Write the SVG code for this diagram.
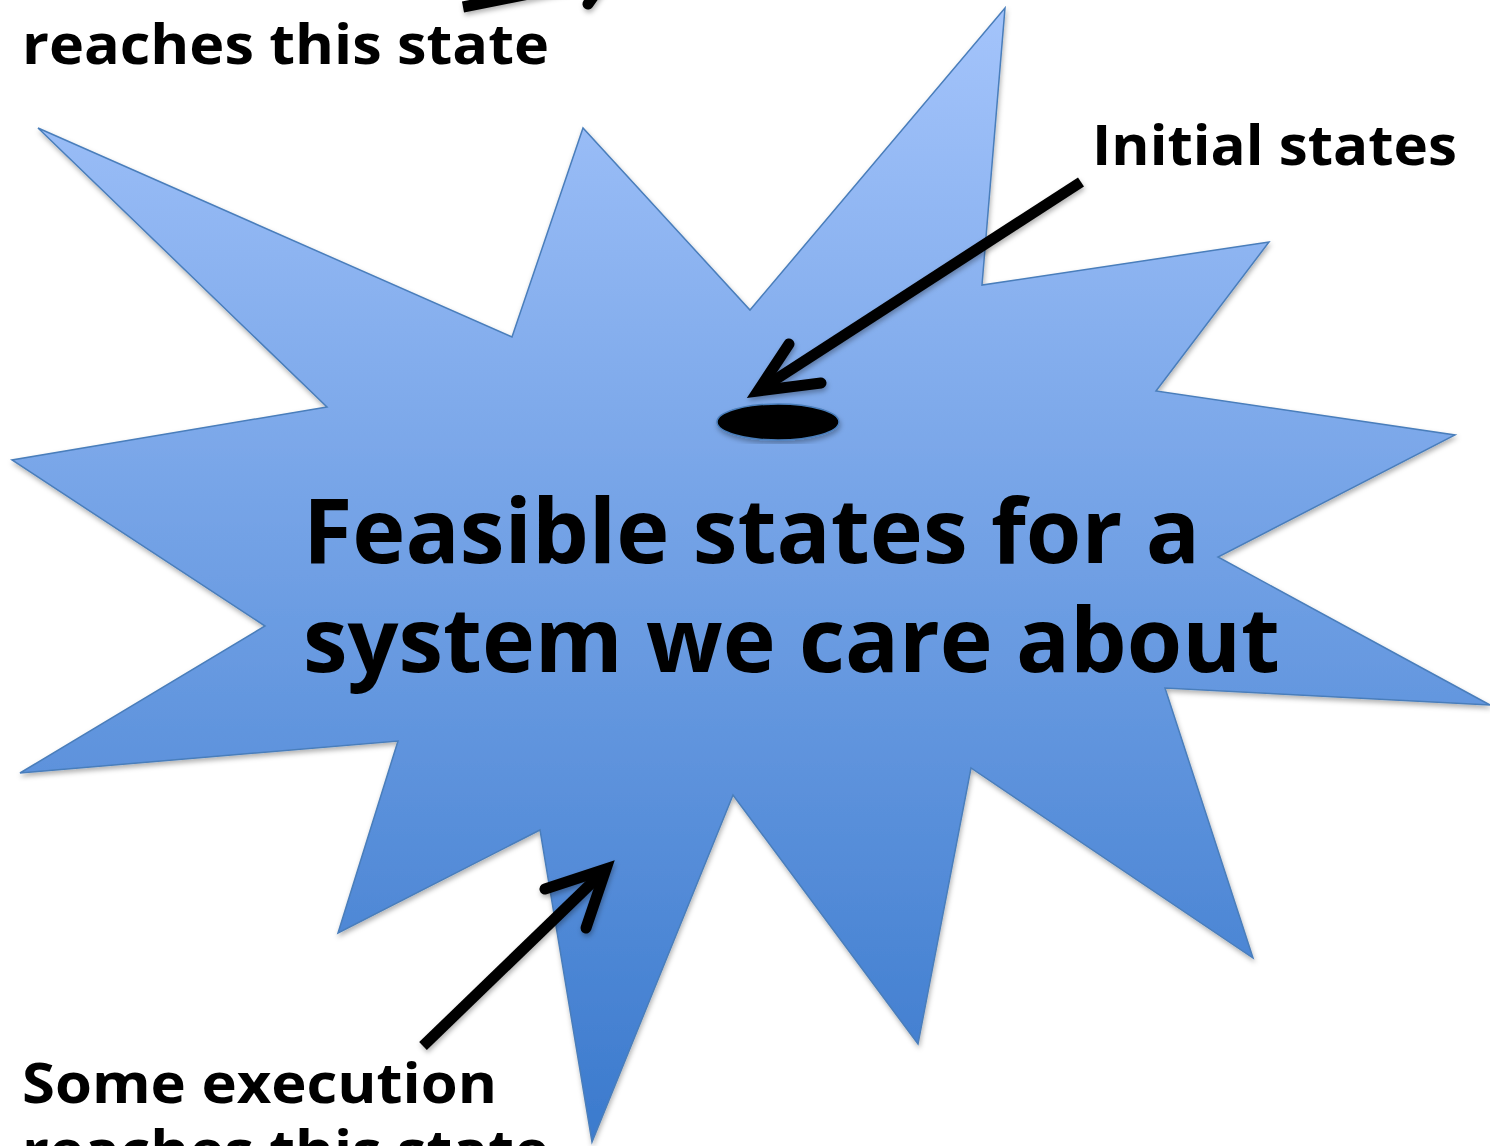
<svg xmlns="http://www.w3.org/2000/svg" width="1490" height="1146" viewBox="0 0 1490 1146">
  <defs>
    <linearGradient id="burstFill" gradientUnits="userSpaceOnUse" x1="0" y1="8" x2="0" y2="1142">
      <stop offset="0" stop-color="#a4c4fb"/>
      <stop offset="0.5" stop-color="#6f9fe4"/>
      <stop offset="1" stop-color="#3b7acd"/>
    </linearGradient>
    <filter id="softShadow" x="-10%" y="-10%" width="120%" height="120%">
      <feDropShadow dx="1" dy="3" stdDeviation="2.5" flood-color="#000" flood-opacity="0.3"/>
    </filter>
  </defs>
  <style>
    .label { font-family: "Open Sans", "DejaVu Sans", sans-serif; font-weight: 700; fill: #000; }
    .small { font-size: 56px; }
    .big { font-size: 90px; }
    .shaft { fill: none; stroke: #000; stroke-width: 11; stroke-linecap: butt; }
    .head { fill: none; stroke: #000; stroke-width: 11; stroke-linecap: round; stroke-linejoin: miter; stroke-miterlimit: 10; }
  </style>

  <rect width="1490" height="1146" fill="#fff"/>

  <!-- state space: explosion shape -->
  <g id="feasible-states">
    <polygon filter="url(#softShadow)" fill="url(#burstFill)" stroke="#4a7ebb" stroke-width="1.5" stroke-linejoin="miter"
      points="38,128 512,337 583,128 750,310 1005,8 982,285 1269,242 1156,391 1455,435 1218,557 1490,705 1165,688 1253,958 971,768 918,1044 733,795 592,1142 540,830 338,933 398,741 20,773 265,626 12,460 327,407"/>
    <text class="label big" x="303" y="563" textLength="897" lengthAdjust="spacingAndGlyphs">Feasible states for a</text>
    <text class="label big" x="303" y="672" textLength="977" lengthAdjust="spacingAndGlyphs">system we care about</text>
  </g>

  <!-- initial state set -->
  <g id="initial-set">
    <ellipse cx="778" cy="422" rx="61" ry="18" fill="#000" stroke="#4a7ebb" stroke-width="1.5" filter="url(#softShadow)"/>
  </g>

  <g id="label-initial">
    <text class="label small" x="1092" y="165" textLength="365" lengthAdjust="spacingAndGlyphs">Initial states</text>
  </g>

  <g id="label-reach-top">
    <text class="label small" x="22" y="64" textLength="527" lengthAdjust="spacingAndGlyphs">reaches this state</text>
  </g>

  <g id="label-reach-bottom">
    <text class="label small" x="22" y="1103" textLength="475" lengthAdjust="spacingAndGlyphs">Some execution</text>
    <text class="label small" x="22" y="1170" textLength="527" lengthAdjust="spacingAndGlyphs">reaches this state</text>
  </g>

  <!-- connectors -->
  <g id="connectors" filter="url(#softShadow)">
    <!-- Initial states -> ellipse -->
    <line class="shaft" x1="1081" y1="182" x2="764" y2="387"/>
    <polyline class="head" points="789,344 758,391 821,383"/>

    <!-- Some execution -> reached state -->
    <line class="shaft" x1="423" y1="1046" x2="602" y2="873"/>
    <polyline class="head" points="545,889 606,869 586,928"/>

    <!-- arrow leaving the top edge -->
    <line class="shaft" x1="463" y1="7" x2="640" y2="-28"/>
    <line class="head" x1="588" y1="4" x2="612" y2="-30"/>
  </g>
</svg>
